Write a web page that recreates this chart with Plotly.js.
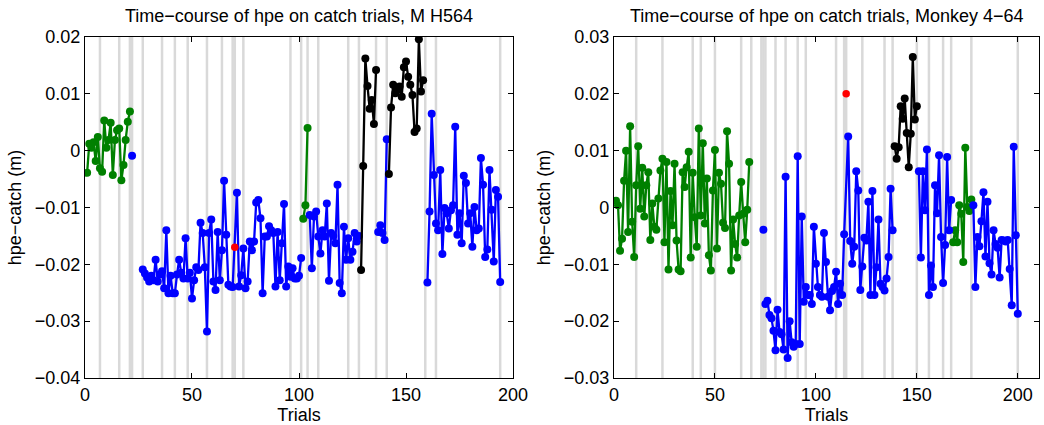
<!DOCTYPE html>
<html>
<head>
<meta charset="utf-8">
<script src="https://cdn.plot.ly/plotly-3.0.1.min.js"></script>
<style>
  html, body { margin: 0; padding: 0; background: #fff; }
  #chart { width: 1044px; height: 425px; }
</style>
</head>
<body>
<div id="chart"></div>
<script>
// ---- M H564 (left panel) ----
const leftGreenStart = [1, 102];
const leftGreenA = [-0.0039, 0.0012, 0.0005, 0.0015, -0.0018, 0.0024, -0.0031, -0.0037, 0.0053, 0.0005,
  0.0019, 0.0049, -0.0043, 0.0019, 0.0036, 0.0039, -0.0052, -0.0025, 0.0019, 0.0051, 0.0069];
const leftGreenB = [-0.0120, -0.0096, 0.0040];

const leftBlueStart = [22, 27, 105, 137, 160];
const leftBlueA = [-0.0009];
const leftBlueB = [-0.0209, -0.0216, -0.0223, -0.0230, -0.0220, -0.0228, -0.0192, -0.0230, -0.0218, -0.0212,
  -0.0242, -0.0140, -0.0251, -0.0220, -0.0251, -0.0251, -0.0218, -0.0192, -0.0215, -0.0225,
  -0.0154, -0.0225, -0.0215, -0.0260, -0.0228, -0.0205, -0.0210, -0.0127, -0.0145, -0.0205,
  -0.0318, -0.0145, -0.0121, -0.0230, -0.0245, -0.0143, -0.0228, -0.0175, -0.0053, -0.0148,
  -0.0236, -0.0239, -0.0240, null, -0.0074, -0.0239, -0.0219, -0.0172, -0.0242, -0.0230,
  -0.0160, -0.0175, -0.0160, -0.0091, -0.0087, -0.0119, -0.0251, -0.0151, -0.0151, -0.0133,
  -0.0140, -0.0145, -0.0239, -0.0143, -0.0228, -0.0163, -0.0094, -0.0239, -0.0204, -0.0222,
  -0.0207, -0.0225, -0.0225, -0.0220, -0.0189];
const leftBlueC = [-0.0113, -0.0207, -0.0116, -0.0107, -0.0151, -0.0181, -0.0140, -0.0151, -0.0093, -0.0229,
  -0.0145, -0.0150, -0.0163, -0.0060, -0.0233, -0.0251, -0.0134, -0.0192, -0.0154, -0.0192,
  -0.0178, -0.0145, -0.0160, -0.0150];
const leftBlueD = [-0.0143, -0.0131, -0.0145, -0.0157, 0.0020];
const leftBlueE = [-0.0232, -0.0107, 0.0065, -0.0043, -0.0128, -0.0140, -0.0034, -0.0182, -0.0101, -0.0110,
  -0.0137, -0.0105, -0.0096, 0.0042, -0.0148, -0.0110, -0.0163, -0.0044, -0.0057, -0.0128,
  -0.0110, -0.0169, -0.0099, -0.0140, -0.0137, -0.0013, -0.0060, -0.0187, -0.0174, -0.0034,
  -0.0104, -0.0195, -0.0069, -0.0081, -0.0231];

const leftBlackStart = [129, 142];
const leftBlackA = [-0.0210, -0.0027, 0.0162, 0.0114, 0.0074, 0.0089, 0.0047, 0.0142];
const leftBlackB = [-0.0041, 0.0076, 0.0116, 0.0101, 0.0107, 0.0113, 0.0095, 0.0147, 0.0157, 0.0130,
  0.0116, 0.0098, 0.0033, 0.0039, 0.0196, 0.0104, 0.0124];

const leftRedTrial = [70];
const leftRedValue = [-0.0170];

const leftMarkedTrials = [7, 16, 21, 22, 27, 36, 42, 48, 57, 64, 69, 70, 74, 96, 101, 104, 109,
  123, 128, 136, 141, 159, 164, 194];

// ---- Monkey 4-64 (right panel) ----
const rightGreenStart = [1, 168];
const rightGreenA = [0.0012, 0.0004, -0.0076, -0.0055, 0.0047, 0.0100, -0.0043, 0.0143, -0.0025, -0.0087,
  0.0039, 0.0108, -0.0002, 0.0070, -0.0016, 0.0039, 0.0062, -0.0057, 0.0007, -0.0034,
  -0.0039, 0.0016, 0.0065, 0.0086, -0.0061, 0.0080, -0.0109, 0.0029, -0.0031, 0.0077,
  -0.0058, -0.0109, -0.0112, 0.0062, 0.0036, 0.0071, 0.0098, -0.0088, 0.0061, -0.0017,
  -0.0069, 0.0139, -0.0014, 0.0113, -0.0028, 0.0051, -0.0084, -0.0111, 0.0030, 0.0101,
  -0.0072, 0.0061, 0.0042, -0.0027, -0.0036, 0.0134, 0.0077, -0.0111, -0.0021, -0.0064,
  -0.0088, -0.0014, 0.0045, -0.0011, -0.0061, -0.0004, 0.0080];
const rightGreenB = [-0.0061, -0.0040, -0.0061, 0.0004, -0.0011, -0.0096, 0.0105, 0.0001, -0.0006, 0.0014];

const rightBlueStart = [74, 75, 151, 178];
const rightBlueA = [-0.0039];
const rightBlueB = [-0.0170, -0.0164, -0.0189, -0.0195, -0.0217, -0.0251, -0.0180, -0.0219, -0.0223, -0.0250,
  0.0054, -0.0265, -0.0200, -0.0237, -0.0245, -0.0240, 0.0090, -0.0240, -0.0016, -0.0166,
  -0.0140, -0.0154, -0.0154, -0.0170, -0.0034, -0.0099, -0.0140, -0.0154, -0.0157, -0.0045,
  -0.0096, -0.0157, -0.0181, -0.0147, -0.0140, -0.0113, -0.0170, -0.0134, -0.0154, -0.0047,
  null, 0.0125, -0.0059, -0.0099, -0.0069, 0.0064, 0.0030, -0.0145, -0.0104, -0.0053,
  -0.0058, 0.0010, -0.0154, 0.0029, -0.0154, -0.0105, -0.0021, -0.0134, -0.0140, -0.0146,
  -0.0125, -0.0087, 0.0033, -0.0040];
const rightBlueC = [0.0064, -0.0088, 0.0064, -0.0005, 0.0102, -0.0154, -0.0102, -0.0140, 0.0039, -0.0010,
  0.0092, -0.0052, -0.0133, -0.0066, 0.0089, -0.0040, 0.0013];
const rightBlueD = [0.0004, -0.0140, -0.0052, -0.0068, -0.0024, 0.0027, -0.0086, 0.0010, -0.0098, -0.0118,
  -0.0040, -0.0064, -0.0071, -0.0123, -0.0057, -0.0058, -0.0060, -0.0057, -0.0108, -0.0172,
  0.0107, -0.0049, -0.0187];

const rightBlackStart = [139];
const rightBlackA = [0.0108, 0.0086, 0.0106, 0.0178, 0.0156, 0.0192, 0.0131, 0.0071, 0.0130, 0.0265,
  0.0155, 0.0178];

const rightRedTrial = [115];
const rightRedValue = [0.0200];

const rightMarkedTrials = [11, 24, 39, 43, 50, 63, 68, 73, 74, 75, 80, 85, 91, 95, 110, 114, 115,
  123, 134, 138, 150, 156, 163, 167, 177, 200];

// ---- styling ----
const GREEN = 'rgb(0,128,0)';
const BLUE = 'rgb(0,0,255)';
const BLACK = 'rgb(0,0,0)';
const RED = 'rgb(255,0,0)';
const FONT = 'Liberation Sans, Arial, Helvetica, sans-serif';

function trialRange(start, n) {
  const out = [];
  for (let i = 0; i < n; i++) out.push(start + i);
  return out;
}

function block(start, values, color, axis) {
  return {
    type: 'scatter', mode: 'lines+markers',
    x: trialRange(start, values.length), y: values,
    xaxis: axis === 2 ? 'x2' : 'x', yaxis: axis === 2 ? 'y2' : 'y',
    connectgaps: true,
    line: { color: color, width: 2.3 },
    marker: { color: color, size: 8 },
    hoverinfo: 'x+y', showlegend: false
  };
}

function dots(trials, values, color, axis) {
  return {
    type: 'scatter', mode: 'markers', x: trials, y: values,
    xaxis: axis === 2 ? 'x2' : 'x', yaxis: axis === 2 ? 'y2' : 'y',
    marker: { color: color, size: 7.5 }, showlegend: false
  };
}

const traces = [
  block(leftGreenStart[0], leftGreenA, GREEN, 1),
  block(leftGreenStart[1], leftGreenB, GREEN, 1),
  block(leftBlueStart[0], leftBlueA, BLUE, 1),
  block(leftBlueStart[1], leftBlueB, BLUE, 1),
  block(leftBlueStart[2], leftBlueC, BLUE, 1),
  block(leftBlueStart[3], leftBlueD, BLUE, 1),
  block(leftBlueStart[4], leftBlueE, BLUE, 1),
  block(leftBlackStart[0], leftBlackA, BLACK, 1),
  block(leftBlackStart[1], leftBlackB, BLACK, 1),
  dots(leftRedTrial, leftRedValue, RED, 1),

  block(rightGreenStart[0], rightGreenA, GREEN, 2),
  block(rightGreenStart[1], rightGreenB, GREEN, 2),
  block(rightBlueStart[0], rightBlueA, BLUE, 2),
  block(rightBlueStart[1], rightBlueB, BLUE, 2),
  block(rightBlueStart[2], rightBlueC, BLUE, 2),
  block(rightBlueStart[3], rightBlueD, BLUE, 2),
  block(rightBlackStart[0], rightBlackA, BLACK, 2),
  dots(rightRedTrial, rightRedValue, RED, 2)
];

function trialLines(trials, xref, yref) {
  return trials.map(t => ({
    type: 'line', xref: xref, yref: yref + ' domain',
    x0: t, x1: t, y0: 0, y1: 1, layer: 'below',
    line: { color: 'rgb(217,217,217)', width: 2.5 }
  }));
}

function xAxis(domain, range, anchor) {
  return {
    domain: domain, range: range, anchor: anchor,
    tickvals: [0, 50, 100, 150, 200],
    ticks: 'inside', ticklen: 5, tickcolor: '#000',
    showline: true, linecolor: '#000', linewidth: 1, mirror: 'ticks',
    showgrid: false, zeroline: false,
    tickfont: { family: FONT, size: 18, color: '#000' },
    title: { text: 'Trials', font: { family: FONT, size: 18, color: '#000' }, standoff: 2 }
  };
}

function yAxis(range, anchor) {
  return {
    domain: [0.1106, 0.9129], range: range, anchor: anchor,
    dtick: 0.01,
    ticks: 'inside', ticklen: 5, tickcolor: '#000',
    showline: true, linecolor: '#000', linewidth: 1, mirror: 'ticks',
    showgrid: false, zeroline: false,
    tickfont: { family: FONT, size: 18, color: '#000' },
    title: { text: 'hpe\u2212catch (m)', font: { family: FONT, size: 18, color: '#000' }, standoff: 8 }
  };
}

const layout = {
  width: 1044, height: 425,
  margin: { l: 0, r: 0, t: 0, b: 0 },
  paper_bgcolor: '#fff', plot_bgcolor: '#fff',
  font: { family: FONT, size: 18, color: '#000' },
  xaxis: xAxis([0.0814, 0.4914], [0, 200], 'y'),
  yaxis: yAxis([-0.04, 0.02], 'x'),
  xaxis2: xAxis([0.5881, 0.9952], [0, 210.5], 'y2'),
  yaxis2: yAxis([-0.03, 0.03], 'x2'),
  shapes: trialLines(leftMarkedTrials, 'x', 'y').concat(trialLines(rightMarkedTrials, 'x2', 'y2')),
  annotations: [
    { text: 'Time\u2212course of hpe on catch trials, M H564', xref: 'paper', yref: 'paper',
      x: 0.2864, y: 1 - 16 / 425, xanchor: 'center', yanchor: 'middle', showarrow: false,
      font: { family: FONT, size: 18, color: '#000' } },
    { text: 'Time\u2212course of hpe on catch trials, Monkey 4\u221264', xref: 'paper', yref: 'paper',
      x: 0.7917, y: 1 - 16 / 425, xanchor: 'center', yanchor: 'middle', showarrow: false,
      font: { family: FONT, size: 18, color: '#000' } }
  ],
  showlegend: false
};

Plotly.newPlot('chart', traces, layout, { displayModeBar: false, staticPlot: true });
</script>
</body>
</html>
